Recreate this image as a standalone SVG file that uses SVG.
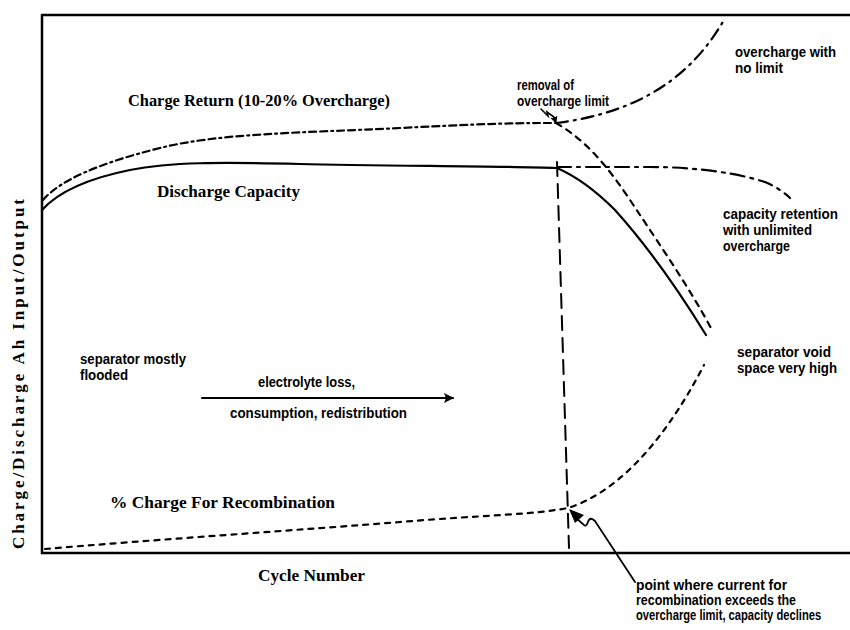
<svg xmlns="http://www.w3.org/2000/svg" width="850" height="630" viewBox="0 0 850 630">
<defs>
<style>
.ser{font-family:"Liberation Serif","Times New Roman",serif;font-weight:bold;font-size:17px;fill:#000}
.ann{font-family:"Liberation Sans Narrow","Arial Narrow","Liberation Sans",sans-serif;font-weight:bold;font-size:14px;fill:#000}
.ln{fill:none;stroke:#000;stroke-linecap:round}
</style>
<marker id="ah" viewBox="0 0 10 10" refX="9" refY="5" markerWidth="12" markerHeight="10" orient="auto" markerUnits="userSpaceOnUse">
<path d="M0,0 L10,5 L0,10 L2,5 Z" fill="#000"/>
</marker>
<marker id="ah2" viewBox="0 0 10 10" refX="9" refY="5" markerWidth="7" markerHeight="7" orient="auto" markerUnits="userSpaceOnUse">
<path d="M0,0 L10,5 L0,10 Z" fill="#000"/>
</marker>
</defs>
<rect width="850" height="630" fill="#fff"/>
<g id="frame">
<path class="ln" d="M42,15 H850 M42,15 V553 H850" stroke-width="2.5" stroke-linecap="butt"/>
</g>
<g id="connectors">
<path id="charge-return" class="ln" stroke-width="2.2" stroke-dasharray="7 4 7 4 2 4" d="M43,200 C60,180 100,163 160,148 S300,133 400,128 S520,123 556,123"/>
<path id="overcharge-nolimit" class="ln" stroke-width="2.2" stroke-dasharray="12 6 2 6" d="M556,123 C620,115 685,90 725,18"/>
<path id="charge-decline" class="ln" stroke-width="2.2" stroke-dasharray="6 6" d="M556,123 C595,145 620,185 640,215 S692,292 712,330"/>
<path id="discharge" class="ln" stroke-width="2.2" d="M42,210 C60,190 90,178 130,170 S220,162 300,164 S500,166 557,168 C580,178 600,195 615,210 Q660,260 706,335"/>
<path id="retention" class="ln" stroke-width="2.2" stroke-dasharray="14 6 3 6" d="M557,167 L650,167 C700,167 740,174 765,182 C777,187 786,194 790,198"/>
<path id="limit-line" class="ln" stroke-width="2" stroke-linecap="butt" stroke-dasharray="14 8" d="M557,162 L569,548"/>
<path id="recombination" class="ln" stroke-width="2.2" stroke-dasharray="5 6" d="M45,549 C150,540 300,530 400,522 S530,515 568,508 C612,494 660,450 704,365"/>
<path id="electrolyte-arrow" class="ln" stroke-width="2.2" marker-end="url(#ah)" d="M202,398 L453,398"/>
<path id="removal-arrow" class="ln" stroke-width="1.6" marker-end="url(#ah2)" d="M541,109 L548,116 L547,112 L554,117 L556,123"/>
<path id="point-arrow" class="ln" stroke-width="1.8" d="M576,518 L583,524 Q586,528 588,522 Q590,516 595,521 L635,582"/>
<path d="M569,509 L584,515 L575,523 Z" fill="#000"/>
</g>
<g id="y-axis-label"><text class="ser" transform="translate(24,374) rotate(-90)" text-anchor="middle" textLength="350" lengthAdjust="spacing">Charge/Discharge Ah Input/Output</text></g>
<g id="x-axis-label"><text class="ser" x="258" y="581" textLength="107" lengthAdjust="spacingAndGlyphs">Cycle Number</text></g>
<g id="label-charge-return"><text class="ser" x="128" y="106" textLength="262" lengthAdjust="spacingAndGlyphs">Charge Return (10-20% Overcharge)</text></g>
<g id="label-discharge"><text class="ser" x="157" y="197" textLength="143" lengthAdjust="spacingAndGlyphs">Discharge Capacity</text></g>
<g id="label-recombination"><text class="ser" x="110" y="508" textLength="225" lengthAdjust="spacingAndGlyphs">% Charge For Recombination</text></g>
<g id="note-removal"><text class="ann" x="517" y="90" textLength="57" lengthAdjust="spacingAndGlyphs">removal of</text><text class="ann" x="517" y="106" textLength="92" lengthAdjust="spacingAndGlyphs">overcharge limit</text></g>
<g id="note-nolimit"><text class="ann" x="735" y="57" textLength="101" lengthAdjust="spacingAndGlyphs">overcharge with</text><text class="ann" x="735" y="73" textLength="48" lengthAdjust="spacingAndGlyphs">no limit</text></g>
<g id="note-retention"><text class="ann" x="723" y="219" textLength="115" lengthAdjust="spacingAndGlyphs">capacity retention</text><text class="ann" x="723" y="235" textLength="89" lengthAdjust="spacingAndGlyphs">with unlimited</text><text class="ann" x="723" y="251" textLength="67" lengthAdjust="spacingAndGlyphs">overcharge</text></g>
<g id="note-void"><text class="ann" x="737" y="357" textLength="94" lengthAdjust="spacingAndGlyphs">separator void</text><text class="ann" x="737" y="373" textLength="100" lengthAdjust="spacingAndGlyphs">space very high</text></g>
<g id="note-flooded"><text class="ann" x="80" y="364" textLength="106" lengthAdjust="spacingAndGlyphs">separator mostly</text><text class="ann" x="80" y="380" textLength="48" lengthAdjust="spacingAndGlyphs">flooded</text></g>
<g id="note-electrolyte"><text class="ann" x="258" y="387" textLength="97" lengthAdjust="spacingAndGlyphs">electrolyte loss,</text><text class="ann" x="230" y="418" textLength="177" lengthAdjust="spacingAndGlyphs">consumption, redistribution</text></g>
<g id="note-point"><text class="ann" x="636" y="590" textLength="151" lengthAdjust="spacingAndGlyphs">point where current for</text><text class="ann" x="636" y="605" textLength="160" lengthAdjust="spacingAndGlyphs">recombination exceeds the</text><text class="ann" transform="translate(636,620) scale(0.8,1)" x="0" y="0">overcharge limit, capacity declines</text></g>
</svg>
